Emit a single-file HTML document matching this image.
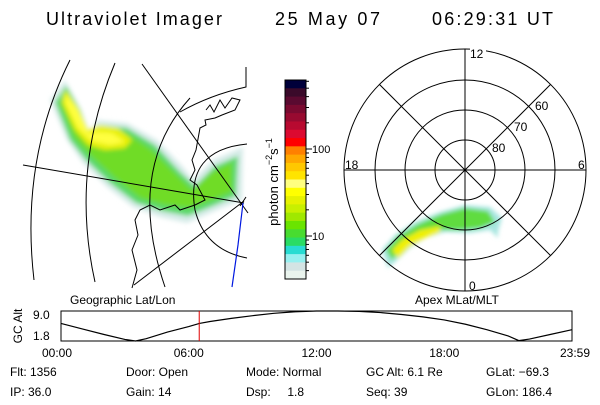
<!DOCTYPE html>
<html><head><meta charset="utf-8"><style>
html,body{margin:0;padding:0;background:#fff;}
body{width:600px;height:400px;overflow:hidden;position:relative;font-family:"Liberation Sans",sans-serif;}
svg text{font-family:"Liberation Sans",sans-serif;fill:#000;}
</style></head><body>
<svg id="s" width="600" height="400" viewBox="0 0 600 400">
<defs>
<filter id="bl" x="-20%" y="-20%" width="140%" height="140%"><feGaussianBlur stdDeviation="2.5"/></filter>
<filter id="bl2" x="-20%" y="-20%" width="140%" height="140%"><feGaussianBlur stdDeviation="2"/></filter>
</defs>
<g font-size="18" fill="#111">
<text x="46" y="25" textLength="176">Ultraviolet Imager</text>
<text x="275" y="25" textLength="105">25 May 07</text>
<text x="432" y="25" textLength="121">06:29:31 UT</text>
</g>

<g>
<g filter="url(#bl)">
<path d="M65,80 L50,100 L67,140 L83,163 L107,187 L133,207 L160,217 L187,223 L217,210 L242,200 L243,147 L213,160 L193,180 L183,167 L157,140 L127,123 L97,120 L90,133 L80,107 Z" fill="#d6ebe8"/>
<path d="M66,86 L55,102 L70,140 L86,160 L110,183 L136,203 L162,211 L188,216 L215,205 L236,196 L238,156 L215,166 L195,186 L180,172 L155,145 L127,128 L100,125 L90,138 L80,110 Z" fill="#5ad86a"/>
<path d="M67,90 L60,104 L74,138 L90,155 L115,178 L140,198 L165,205 L190,208 L212,200 L232,192 L232,162 L212,172 L192,190 L178,176 L152,150 L127,133 L102,130 L92,140 L80,112 Z" fill="#70dc28"/>
<path d="M65,90 L62,102 L75,130 L88,145 L105,150 L125,148 L132,140 L118,128 L100,125 L88,130 L78,108 Z" fill="#e8f000"/>
<path d="M66,94 L66,104 L78,128 L92,141 L110,145 L125,142 L112,133 L98,132 L88,133 L78,110 Z" fill="#ffff40"/>
</g>
<g fill="none" stroke="#000" stroke-width="1">
<path d="M70,60 Q20,160 34,280"/>
<path d="M115,63 Q70,170 95,282"/>
<path d="M190,98 Q125,170 165,287"/>
<path d="M247,144 Q185,150 195,210 Q205,250 247,258"/>
<path d="M246,67 L246,87 Q210,95 180,112"/>
<path d="M23,165 L244,203"/>
<path d="M142,64 L248,213"/>
<path d="M244,201 L134,285"/>
<path d="M240,206 L246,197"/>
</g>
<path d="M206,110 L210,105 L214,112 L220,100 L225,108 L232,98 L240,100 L235,110 L222,115 L215,118 L205,120 L206,125 L200,128 L196,150 L192,160 L195,170 L190,180 L197,185 L205,200 L195,205 L180,210 L175,205 L160,210 L150,205 L140,210 L135,220 L138,235 L132,250 L137,270 L132,288" fill="none" stroke="#000" stroke-width="1"/>
<path d="M243,203 L238,245 L232,287" fill="none" stroke="#0018e0" stroke-width="1.2"/>
</g>

<g id="cbar"></g>
<text transform="translate(278,182) rotate(-90)" text-anchor="middle" font-size="13">photon cm<tspan font-size="9" dy="-6">−2</tspan><tspan dy="6">s</tspan><tspan font-size="9" dy="-6">−1</tspan></text>
<text x="312" y="153" font-size="11">100</text>
<text x="312" y="240" font-size="11">10</text>

<g>
<g filter="url(#bl2)">
<path d="M382,250 L395,235 L415,222 L440,212 L465,205 L490,207 L502,218 L498,232 L498,238 L490,230 L470,233 L445,232 L425,238 L410,248 L395,262 L388,268 Z" fill="#a8e6e0"/>
<path d="M386,250 L398,236 L418,224 L442,214 L465,208 L488,211 L495,222 L480,228 L460,230 L440,230 L420,236 L405,246 L392,260 Z" fill="#60dc40"/>
<path d="M392,250 L402,240 L420,230 L440,226 L440,232 L425,238 L410,246 L398,258 Z" fill="#f0f000"/>
</g>
<g fill="none" stroke="#000" stroke-width="1">
<circle cx="465" cy="170" r="30"/>
<circle cx="465" cy="170" r="60"/>
<circle cx="465" cy="170" r="90"/>
<circle cx="465" cy="170" r="121"/>
<line x1="344" y1="170" x2="586" y2="170"/>
<line x1="465" y1="49" x2="465" y2="291"/>
<line x1="379.4" y1="84.4" x2="550.6" y2="255.6"/>
<line x1="550.6" y1="84.4" x2="379.4" y2="255.6"/>
</g>
<g font-size="12">
<rect x="470" y="46" width="16" height="13" fill="#fff"/>
<text x="470" y="58">12</text>
<text x="578" y="169">6</text>
<text x="345" y="169">18</text>
<text x="469" y="290">0</text>
<text x="535" y="110">60</text>
<text x="514" y="131">70</text>
<text x="492" y="152">80</text>
</g>
</g>

<text x="70" y="304" font-size="12">Geographic Lat/Lon</text>
<text x="415" y="304" font-size="12">Apex MLat/MLT</text>
<text transform="translate(22,326) rotate(-90)" text-anchor="middle" font-size="12">GC Alt</text>
<text x="33" y="319" font-size="12">9.0</text>
<text x="33" y="340" font-size="12">1.8</text>
<rect x="61" y="311" width="511" height="30" fill="none" stroke="#000"/>
<g id="alt"></g>
<g id="xt" font-size="12"></g>

<g font-size="12">
<text x="10" y="376">Flt: 1356</text>
<text x="10" y="396">IP: 36.0</text>
<text x="126" y="376">Door: Open</text>
<text x="126" y="396">Gain: 14</text>
<text x="246" y="376">Mode: Normal</text>
<text x="246" y="396">Dsp:&#160;&#160;&#160;&#160; 1.8</text>
<text x="366" y="376">GC Alt: 6.1 Re</text>
<text x="366" y="396">Seq: 39</text>
<text x="486" y="376">GLat: −69.3</text>
<text x="486" y="396">GLon: 186.4</text>
</g>
</svg>
<script>
const cbColors=["#00003a","#3a0a2a","#5a0a30","#7a0a30","#980a30","#b80a30","#dc0a30","#ff0000","#ff8000","#ffa800","#ffc800","#ffe400","#ffff80","#ffff00","#e6f200","#c8f000","#a0e800","#6ae400","#48dc30","#2adc64","#28dcd2","#96f0f0","#d4e4e4","#eaf4ee"];
const altHours=[0,1,2,3,3.5,4,5,6,6.5,7,8,9,10,11,12,13,14,15,16,17,18,19,20,21,21.5,22,23,24];
const altValues=[5.8,4.4,3.0,1.7,1.3,1.9,3.6,5.0,5.8,6.3,7.1,7.8,8.4,8.8,9.0,9.0,8.9,8.6,8.1,7.5,6.7,5.6,4.2,2.6,1.4,1.8,3.0,4.2];
const timeTicks=["00:00","06:00","12:00","18:00","23:59"];
const tickHours=[0,6,12,18,23.98];
const currentHour=6+29/60+31/3600;
const NS="http://www.w3.org/2000/svg";
function mk(t,a,p){const e=document.createElementNS(NS,t);for(const k in a)e.setAttribute(k,a[k]);p.appendChild(e);return e;}
const cb=document.getElementById('cbar');
const cbTop=80,cbBot=279,cbX=285,cbW=21,bh=(cbBot-cbTop)/cbColors.length;
cbColors.forEach((c,i)=>{
 const r=mk('rect',{x:cbX,y:cbTop+i*bh,width:cbW,height:bh+0.5,fill:c},cb);
 
 
});
const fr=mk('rect',{x:cbX,y:cbTop,width:cbW,height:cbBot-cbTop,fill:'none',stroke:'#000'},cb);


function cy(v){return 236-(Math.log10(v)-1)*87;}
[3,4,5,6,7,8,9,10,20,30,40,50,60,70,80,90,100,200,300,400,500,600].forEach(v=>{
 const y=cy(v); if(y<cbTop||y>cbBot)return;
 const l=mk('line',{x1:cbX+cbW,x2:cbX+cbW+((v===10||v===100)?6:3),y1:y,y2:y,stroke:'#000'},cb);
 
 
});
const x0=61,x1=572,yTop=311,yBot=341;
const xs=h=>x0+(h/24)*(x1-x0);
const ys=v=>yBot-(v-1.3)/(9.0-1.3)*(yBot-yTop);
const ag=document.getElementById('alt');
const pl=mk('polyline',{points:altHours.map((h,i)=>xs(h)+','+ys(altValues[i])).join(' '),fill:'none',stroke:'#000','stroke-width':1.2},ag);


const rl=mk('line',{x1:xs(currentHour),x2:xs(currentHour),y1:yTop,y2:yBot,stroke:'#e00000'},ag);


const xt=document.getElementById('xt');
timeTicks.forEach((t,i)=>{
 const anchor=i===0?'start':(i===timeTicks.length-1?'end':'middle');
 let x=xs(tickHours[i]); if(i===0)x=42; if(i===timeTicks.length-1)x=590;
 const e=mk('text',{x:x,y:357,'text-anchor':anchor},xt);
 e.textContent=t;
 
 
});
</script>
</body></html>
